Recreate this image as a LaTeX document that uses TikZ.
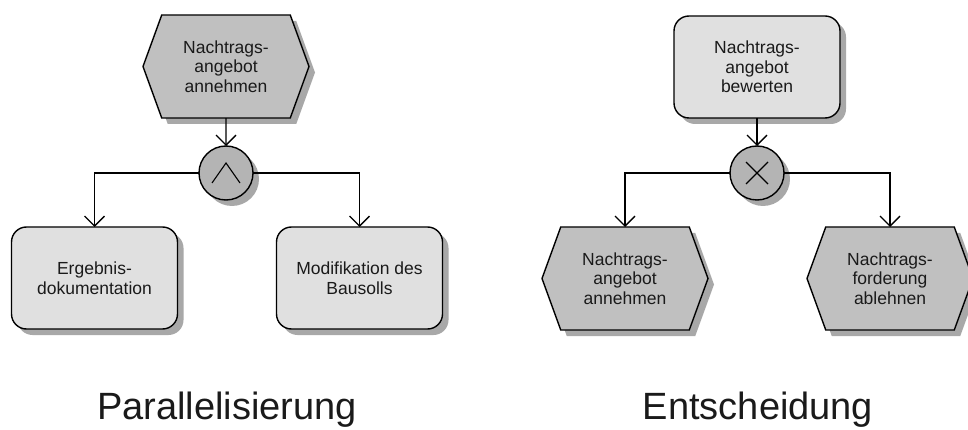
\documentclass[tikz,border=0pt]{standalone}
\usepackage{fontspec}
\setmainfont{Liberation Sans}
\usetikzlibrary{arrows.meta,shapes.symbols,shadows}
\definecolor{epcEvent}{HTML}{C0C0C0}
\definecolor{epcFunc}{HTML}{E0E0E0}
\definecolor{epcConn}{HTML}{B4B4B4}
\definecolor{epcShadow}{HTML}{A8A8A8}
\definecolor{epcInk}{HTML}{1A1A1A}

\begin{document}
\begin{tikzpicture}[
  x=1pt,y=-1pt,
  font=\fontsize{17.5}{19.5}\selectfont,
  every node/.style={
    text=epcInk,align=center,outer sep=0pt
  },
  castshadow/.style={
    general shadow={
      shadow xshift=6pt,shadow yshift=-6pt,fill=epcShadow
    }
  },
  event/.style={
    signal,
    signal to=west and east,
    signal pointer angle=140,
    draw,
    line width=1.4pt,
    fill=epcEvent,
    minimum width=166pt,
    minimum height=103pt,
    inner sep=2pt,
    castshadow
  },
  func/.style={
    rectangle,
    rounded corners=15pt,
    draw,
    line width=1.4pt,
    fill=epcFunc,
    minimum width=166pt,
    minimum height=102pt,
    castshadow
  },
  conn/.style={
    circle,
    draw,
    line width=1.4pt,
    fill=epcConn,
    minimum size=54pt,
    inner sep=0pt,
    castshadow
  },
  andsign/.style={
    conn,
    path picture={
      \draw[line width=1.1pt]
        ([xshift=-14pt,yshift=-10pt]path picture bounding box.center)
        -- ([yshift=10pt]path picture bounding box.center)
        -- ([xshift=14pt,yshift=-10pt]path picture bounding box.center);
    }
  },
  xorsign/.style={
    conn,
    path picture={
      \draw[line width=1.1pt]
        ([xshift=-11pt,yshift=11pt]path picture bounding box.center)
        -- ([xshift=11pt,yshift=-11pt]path picture bounding box.center)
        ([xshift=-11pt,yshift=-11pt]path picture bounding box.center)
        -- ([xshift=11pt,yshift=11pt]path picture bounding box.center);
    }
  },
  flow/.style={
    -{Straight Barb[length=10pt,width=20pt]},
    line width=1.3pt
  },
  caption/.style={
    anchor=base,
    font=\fontsize{38}{42}\selectfont
  }
]
\path[use as bounding box] (0,0) rectangle (968,430);

% Parallel split (AND)
\node[event] (annehmen) at (226,66.5)
  {Nachtrags-\\angebot\\annehmen};

\node[andsign] (andop) at (226,173) {};

\node[func] (ergebnis) at (94.5,278)
  {Ergebnis-\\dokumentation};

\node[func] (modifikation) at (359.5,278)
  {Modifikation des\\Bausolls};

\draw[flow] (annehmen) -- (andop);
\draw[flow] (andop.west) -| (ergebnis.north);
\draw[flow] (andop.east) -| (modifikation.north);

% Decision (XOR)
\node[func] (bewerten) at (757,67)
  {Nachtrags-\\angebot\\bewerten};

\node[xorsign] (xorop) at (757,173) {};

\node[event] (accept) at (625,278.5)
  {Nachtrags-\\angebot\\annehmen};

\node[event] (reject) at (890,278.5)
  {Nachtrags-\\forderung\\ablehnen};

\draw[flow] (bewerten) -- (xorop);
\draw[flow] (xorop.west) -| (accept.north);
\draw[flow] (xorop.east) -| (reject.north);

% Captions
\node[caption] (parcap) at (227,419) {Parallelisierung};
\node[caption] (deccap) at (758,419) {Entscheidung};

\end{tikzpicture}
\end{document}
